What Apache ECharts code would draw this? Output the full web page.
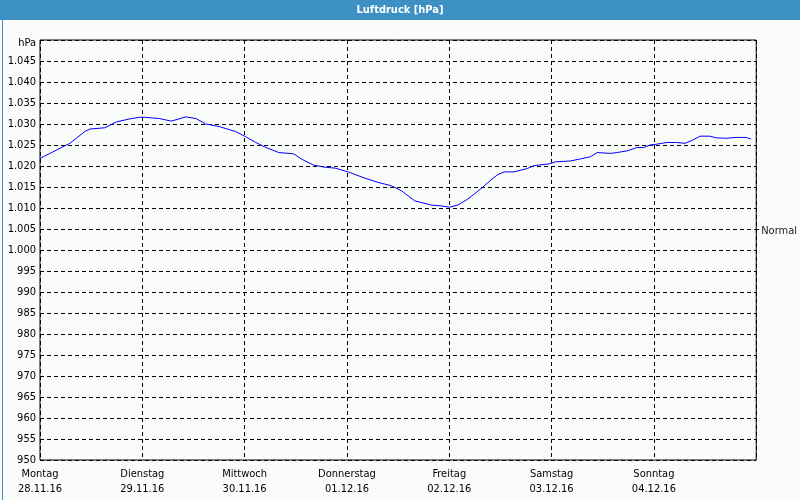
<!DOCTYPE html>
<html>
<head>
<meta charset="utf-8">
<script src="https://cdn.jsdelivr.net/npm/echarts@6/dist/echarts.min.js"></script>
<style>
html,body{margin:0;padding:0;background:#fafcfa;}
#c{width:800px;height:500px;}
</style>
</head>
<body>
<div id="c"></div>
<script>
// Hours since Mon 28.11.16 00:00
const hours = [0,7,10.5,11.7,15.2,17.9,21,23.3,24.5,28,30.7,31.9,34.2,36.6,38.9,42,45.9,48.2,50.6,53,56,59.5,61.4,64.2,66.9,69.2,72.3,76.2,79.3,82.4,84.8,87.9,91.8,94.1,96.1,98,100.3,102.7,103.8,105.8,107.3,108.9,111.2,114.3,115.9,119.4,120.9,124.4,126.8,129.1,130.7,133.8,135.3,137.7,140,141.6,143.1,144.7,147,149.3,151.3,153.2,154.8,157.1,158.7,161,163.3,165.7,166.8];
const pressure = [1021.8,1025.4,1028.2,1028.8,1029.1,1030.5,1031.2,1031.6,1031.6,1031.3,1030.7,1031.0,1031.7,1031.3,1030.0,1029.4,1028.2,1027.0,1025.6,1024.4,1023.2,1022.9,1021.6,1020.2,1019.7,1019.5,1018.6,1017.1,1016.1,1015.3,1014.1,1011.7,1010.7,1010.5,1010.2,1010.7,1012.1,1014.0,1014.9,1016.7,1017.9,1018.6,1018.6,1019.4,1020.1,1020.5,1021.0,1021.2,1021.7,1022.2,1023.2,1023.0,1023.2,1023.6,1024.4,1024.4,1025.0,1025.2,1025.6,1025.6,1025.4,1026.2,1027.1,1027.1,1026.7,1026.6,1026.8,1026.8,1026.4];
const weekdays = ['Montag','Dienstag','Mittwoch','Donnerstag','Freitag','Samstag','Sonntag'];
const dates = ['28.11.16','29.11.16','30.11.16','01.12.16','02.12.16','03.12.16','04.12.16'];
const normalValue = 1005;
const titleText = 'Luftdruck [hPa]';

const FONT = "Tahoma, 'DejaVu Sans Condensed', 'Liberation Sans', sans-serif";
const chart = echarts.init(document.getElementById('c'), null, {renderer:'canvas'});
const fmtY = v => {
  if (v === 1050) return '{u|hPa}';
  if (v >= 1000) { const s = String(v); return s[0] + '.' + s.slice(1); }
  return String(v);
};
const dash = {color:'#000', width:1, type:[4,3]};
chart.setOption({
  backgroundColor:'#fafcfa',
  animation:false,
  graphic:[
    {type:'rect', left:0, top:0, shape:{width:800, height:20}, style:{fill:'#3c90c4'}, z:10},
    {type:'rect', left:0, top:0, shape:{x:0.5,y:0.5,width:799, height:499}, style:{fill:'none', stroke:'#3c90c4', lineWidth:1}, z:10},
    {type:'text', left:'center', top:5, style:{text:titleText, fill:'#fff', font:"bold 11px " + FONT}, z:11}
  ],
  grid:{left:40, right:40, top:40, bottom:40, show:true, borderColor:'#000', borderWidth:1, backgroundColor:'transparent'},
  xAxis:{
    type:'value', min:0, max:168, interval:24,
    axisLine:{show:false}, axisTick:{show:false},
    splitLine:{show:true, lineStyle:dash},
    axisLabel:{
      showMaxLabel:false, margin:7, color:'#000', fontSize:11, fontFamily:FONT, lineHeight:15,
      formatter: v => { const i = Math.round(v/24); return i < weekdays.length ? weekdays[i] + '\n' + dates[i] : ''; }
    }
  },
  yAxis:[{
    type:'value', min:950, max:1050, interval:5,
    axisLine:{show:false}, axisTick:{show:false},
    splitLine:{show:true, lineStyle:dash},
    axisLabel:{margin:4, color:'#000', fontSize:11, fontFamily:FONT, formatter: fmtY,
      rich:{u:{fontSize:11, fontFamily:FONT, color:'#000', padding:[7,0,0,0]}}}
  },{
    type:'value', min:950, max:1050, interval:5, position:'right',
    axisLine:{show:false},
    axisTick:{show:true, length:3, customValues:[normalValue], lineStyle:{color:'#000'}},
    splitLine:{show:false},
    axisLabel:{margin:5, color:'#1a1a2a', fontSize:11, fontFamily:FONT, customValues:[normalValue],
      formatter: () => '{n|Normal}', rich:{n:{fontSize:11, fontFamily:FONT, color:'#1a1a2a', padding:[4,0,0,0]}}}
  }],
  series:[{
    type:'line', showSymbol:false, symbol:'none',
    lineStyle:{color:'#0000ff', width:1},
    data: hours.map((h,i)=>[h, pressure[i]])
  }]
});
</script>
</body>
</html>
